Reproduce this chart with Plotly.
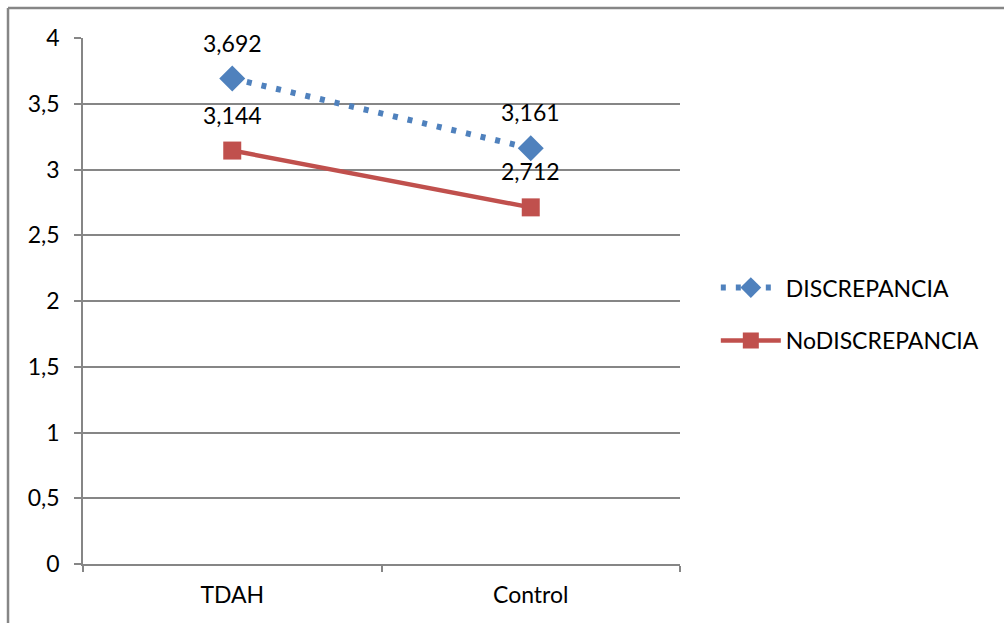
import plotly.graph_objects as go

categories = ["TDAH", "Control"]
discrepancia = [3.692, 3.161]
no_discrepancia = [3.144, 2.712]
y_ticks = [0, 0.5, 1, 1.5, 2, 2.5, 3, 3.5, 4]

BLUE = "#4F81BD"
RED = "#C0504D"
GRID = "#868686"
FONT = "Lato, 'Open Sans', sans-serif"
FS = 23

fig = go.Figure()
fig.add_trace(go.Scatter(
    x=categories, y=discrepancia, name="DISCREPANCIA", mode="lines+markers",
    legendgroup="a",
    line=dict(color=BLUE, width=6, dash="5px,10px"),
    marker=dict(symbol="diamond", size=20, color=BLUE),
))
fig.add_trace(go.Scatter(
    x=categories, y=no_discrepancia, name="NoDISCREPANCIA", mode="lines+markers",
    legendgroup="b",
    line=dict(color=RED, width=4.5),
    marker=dict(symbol="square", size=18, color=RED),
))

# value labels above each point
for series in (discrepancia, no_discrepancia):
    for cat, val in zip(categories, series):
        fig.add_annotation(
            x=cat, y=val, text=f"{val:.3f}".replace(".", ","),
            showarrow=False, yshift=36, font=dict(size=FS, color="black", family=FONT),
        )

# outer frame (top and left edges)
fig.add_shape(type="line", xref="paper", yref="paper", x0=-0.1256, x1=1.6, y0=1.057, y1=1.057,
              line=dict(color=GRID, width=2.5))
fig.add_shape(type="line", xref="paper", yref="paper", x0=-0.1256, x1=-0.1256, y0=1.057, y1=-0.2,
              line=dict(color=GRID, width=2.5))

fig.update_layout(
    width=1004, height=623,
    margin=dict(l=83, r=324, t=38, b=59),
    paper_bgcolor="white", plot_bgcolor="white",
    separators=",.",
    font=dict(family=FONT, size=FS, color="black"),
    showlegend=True,
    legend=dict(x=1.06, y=0.475, xanchor="left", yanchor="middle",
                font=dict(size=FS), tracegroupgap=20, itemwidth=60),
    xaxis=dict(
        type="category", range=[-0.5, 1.5], tickson="boundaries",
        ticks="outside", ticklen=6, tickcolor=GRID, tickwidth=1.5,
        showline=True, linecolor=GRID, linewidth=1.5, showgrid=False,
        tickfont=dict(size=FS), ticklabelstandoff=10,
    ),
    yaxis=dict(
        range=[0, 4], tickvals=y_ticks, tickformat=".1~f",
        ticks="outside", ticklen=7, tickcolor=GRID, tickwidth=1.5,
        showline=True, linecolor=GRID, linewidth=1.5,
        showgrid=True, gridcolor=GRID, gridwidth=1.5, zeroline=False,
        tickfont=dict(size=FS), ticklabelstandoff=10,
    ),
)

fig.write_html("out.html")
